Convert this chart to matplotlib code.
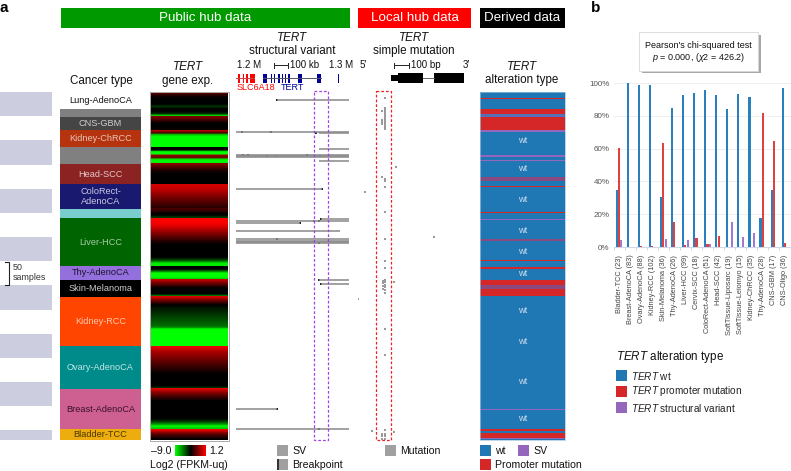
import numpy as np
import matplotlib
matplotlib.use("Agg")
import matplotlib.pyplot as plt
from matplotlib.colors import LinearSegmentedColormap
from matplotlib.patches import Rectangle

plt.rcParams['font.family'] = ['Liberation Sans', 'DejaVu Sans']
plt.rcParams['mathtext.fontset'] = 'custom'
plt.rcParams['mathtext.rm'] = 'Liberation Sans'
plt.rcParams['mathtext.it'] = 'Liberation Sans:italic'
plt.rcParams['mathtext.bf'] = 'Liberation Sans:bold'

W, H = 791, 471

# ---------- panel a data ----------
group_names = ["Lung-AdenoCA", "", "CNS-GBM", "Kidney-ChRCC", "", "Head-SCC", "ColoRect-\nAdenoCA", "",
               "Liver-HCC", "Thy-AdenoCA", "Skin-Melanoma", "Kidney-RCC", "Ovary-AdenoCA",
               "Breast-AdenoCA", "Bladder-TCC"]
group_samples = [35, 17, 27, 35, 35, 42, 51, 19, 99, 28, 36, 102, 88, 84, 22]
group_colors = ["#ffffff", "#808080", "#454545", "#b5340f", "#808080", "#8b2323", "#191970", "#79cdcd",
                "#006400", "#9370db", "#000000", "#ff4500", "#008b8b", "#cd6090", "#eead0e"]
label_colors = ["#111111", "#cccccc", "#cfcfcf", "#e8c4b4", "#cccccc", "#e2c8c8", "#c8c8e2", "#333333",
                "#a8cca8", "#1d1430", "#cccccc", "#ffc9b0", "#c4e6e6", "#3a1228", "#4a3500"]
heat_rows = [
    [-1.9, -3.0, -3.7, -3.9, -3.9, -3.9, -3.9, -5.0, -4.3],
    [-3.9, -3.9, -4.8, -8.8],
    [-1.4, -2.2, -3.0, -3.9, -3.9, -3.9, -3.6],
    [-0.4, -2.6, -8.0, -9.0, -9.0, -9.0, -9.0, -9.0, -9.0],
    [-3.9, -3.9, -9.0, -9.0, -1.0, -1.8, -8.6, -9.0, -8.6],
    [-1.2, -2.0, -2.8, -3.4, -3.7, -3.9, -3.9, -3.9, -3.9, -3.9],
    [0.3, 0.2, 0.0, -0.3, -0.7, -1.0, -1.4, -1.7, -2.0, -2.3, -2.6, -2.9, -3.2],
    [-2.5, -2.9, -3.9, -3.9, -5.0],
    [1.2, 1.2, 1.0, 0.8, 0.3, -0.2, -0.7, -1.2, -1.7, -2.2, -2.7, -3.2, -3.6, -3.9, -3.9, -3.9, -3.9,
     -3.9, -3.9, -3.9, -4.8, -6.0, -8.6, -8.6],
    [-3.9, -3.9, -6.0, -9.0, -9.0, -9.0, -8.0],
    [0.0, -1.2, -2.0, -3.0, -3.9, -3.9, -3.9, -3.9, -7.0],
    [0.5, -1.0, -2.0, -3.0, -3.9, -4.2, -4.4, -4.6, -4.8, -5.0, -5.2, -5.4, -5.6, -5.8, -6.0, -6.3,
     -9.0, -9.0, -9.0, -9.0, -9.0, -9.0, -9.0, -9.0, -9.0],
    [0.8, 0.2, -0.3, -0.7, -1.0, -1.3, -1.6, -1.9, -2.2, -2.5, -2.8, -3.1, -3.4, -3.7, -3.9, -3.9,
     -3.9, -3.9, -3.9, -3.9, -3.9, -5.2],
    [0.6, -0.5, -1.3, -2.0, -2.7, -3.3, -3.9, -3.9, -3.9, -3.9, -3.9, -3.9, -3.9, -3.9, -3.9, -3.9,
     -4.5, -5.5, -7.0, -9.0, -8.0],
    [0.9, -0.5, -1.8, -2.6, -3.2, -3.9],
]
# structural variants: sample row, start and end in track units
sv_rows = [17, 82, 84, 118, 130, 133, 135, 143, 200, 263, 267, 270, 288, 304, 308, 311, 313, 389, 398, 656, 697]
sv_start = [41, 0, 83, 83, 0, 0, 0, 83, 0, 85, 0, 0, 0, 0, 0, 0, 0, 83, 85, 0, 0]
sv_end = [113, 113, 113, 113, 113, 113, 113, 113, 86, 113, 113, 64, 104, 113, 113, 113, 113, 113, 113, 41, 113]
bp_rows = [17, 82, 82, 84, 130, 130, 133, 133, 130, 133, 200, 263, 270, 267, 267, 304, 313, 389, 398, 656, 697]
bp_pos = [41, 6, 35, 80, 7, 12, 31, 40, 71, 84, 86, 85, 64, 78, 83, 41, 83, 83, 85, 41, 83]
# simple mutations: track position and sample row
mut_pos = [27, 24, 24, 24, 24, 27, 27, 27, 27, 27, 27, 27, 27, 27, 27, 27, 27, 38, 24, 27, 27, 27, 7, 27, 27, 76,
           27, 27, 36, 25, 27, 25, 27, 25, 27, 25, 27, 27, 27, 0, 27, 27, 14, 36, 27, 24, 27, 24, 27, 24, 27]
mut_rows = [12, 39, 58, 62, 66, 33, 37, 41, 45, 49, 53, 57, 60, 64, 68, 72, 76, 155, 176, 180, 184, 197, 207, 248,
            304, 300, 349, 364, 393, 391, 389, 396, 394, 402, 399, 407, 404, 410, 416, 428, 490, 544, 702, 704,
            700, 707, 707, 712, 712, 717, 717]
# alteration runs from top to bottom: 0 wt, 1 promoter, 2 SV, 3 wt+SV blend, 4 promoter+SV blend
alt_counts = [12, 2, 21, 10, 6, 27, 5, 48, 4, 6, 2, 32, 10, 10, 2, 51, 2, 12, 2, 40, 4, 40, 1, 13, 4, 23, 10, 8, 15,
              234, 1, 41, 4, 4, 10, 2, 2]
alt_types = [0, 1, 0, 1, 3, 1, 2, 0, 2, 0, 2, 0, 4, 0, 1, 0, 1, 0, 2, 0, 4, 0, 1, 0, 1, 0, 1, 4, 1,
             0, 2, 0, 1, 0, 1, 2, 0]
wt_rows = [100, 158, 222, 286, 330, 375, 453, 516, 598, 675]
blocks_step = 100
blocks_width = 50

# ---------- panel b data ----------
b_labels = ["Bladder-TCC (23)", "Breast-AdenoCA (83)", "Ovary-AdenoCA (88)", "Kidney-RCC (102)", "Skin-Melanoma (36)",
            "Thy-AdenoCA (26)", "Liver-HCC (99)", "Cervix-SCC (18)", "ColoRect-AdenoCA (51)", "Head-SCC (42)",
            "SoftTissue-Liposarc (19)", "SoftTissue-Leiomyo (15)", "Kidney-ChRCC (35)", "Thy-AdenoCA (28)",
            "CNS-GBM (17)", "CNS-Oligo (36)"]
b_wt = [34.5, 100, 98.8, 99, 30.5, 84.5, 92.8, 94, 96, 92.8, 84, 93.2, 91.5, 17.5, 35, 97]
b_prom = [60.5, 0, 0.6, 0.6, 63.5, 15, 1.5, 5.2, 1.8, 7, 0, 0, 0, 82, 64.7, 2.5]
b_sv = [4, 0, 0, 0, 5, 0, 4.5, 0, 1.8, 0, 15.5, 6.3, 8.3, 0, 0, 0]
b_ticks = [0, 20, 40, 60, 80, 100]

BLUE, RED, PURPLE = "#1f77b4", "#d62728", "#9467bd"
ALT_COLORS = [BLUE, RED, PURPLE, "#5570b8", "#8a4a80"]

fig = plt.figure(figsize=(W / 100, H / 100), dpi=100, facecolor="white")


def add_ax(x0, y0, x1, y1, **kw):
    return fig.add_axes([x0 / W, 1 - y1 / H, (x1 - x0) / W, (y1 - y0) / H], **kw)


def track_ax(x0, x1):
    ax = add_ax(x0, TOP, x1, BOT)
    ax.set_xlim(0, x1 - x0)
    ax.set_ylim(total, 0)
    ax.axis("off")
    return ax


TOP, BOT = 92, 440
total = sum(group_samples)
edges = np.concatenate([[0], np.cumsum(group_samples)])

# lavender sample-scale blocks
ax = track_ax(0, 52)
ax.barh(np.arange(0, total, blocks_step), 52, height=blocks_width, align="edge", color="#cdcde0", linewidth=0)

# cancer type column
ax = track_ax(60, 141)
ax.barh(edges[:-1], 81, height=group_samples, align="edge", color=group_colors, linewidth=0)
for name, c, a, b in zip(group_names, label_colors, edges[:-1], edges[1:]):
    if name:
        ax.text(40.5, (a + b) / 2, name, ha="center", va="center", color=c, fontsize=6.6, linespacing=1.1)

# expression heat map
cmap = LinearSegmentedColormap.from_list("gkr", ["#00ff00", "#000000", "#ff0000"])
ax = track_ax(150, 228)
for vals, a, b in zip(heat_rows, edges[:-1], edges[1:]):
    ax.imshow(np.array(vals)[:, None], cmap=cmap, vmin=-9, vmax=1.2, aspect="auto",
              extent=(0, 78, b, a), interpolation="bilinear")
ax.set_xlim(0, 78)
ax.set_ylim(total, 0)

# structural variants
ax = track_ax(236, 350)
ax.hlines(sv_rows, sv_start, sv_end, color="#8c8c8c", linewidth=1.15)
ax.scatter(bp_pos, bp_rows, s=2.6, marker="s", color="#222222", linewidths=0)

# simple mutations
ax = track_ax(358, 472)
ax.scatter(mut_pos, mut_rows, s=3.0, marker="s", color="#9a9a9a", linewidths=0)

# alteration type strip
ax = track_ax(480, 565)
alt_edges = np.concatenate([[0], np.cumsum(alt_counts)])
ax.barh(alt_edges[:-1], 85, height=alt_counts, align="edge", linewidth=0,
        color=[ALT_COLORS[t] for t in alt_types])
for r in wt_rows:
    ax.text(42.5, r, "wt", color="#cfe0ee", ha="center", va="center", fontsize=6.6)

# ---------- panel b ----------
ax = add_ax(613.5, 83, 790.5, 247)
x = np.arange(len(b_labels))
w = 0.19
ax.bar(x - 0.21, b_wt, w, color="#2a7fbf", linewidth=0, zorder=3)
ax.bar(x, b_prom, w, color="#e04040", linewidth=0, zorder=3)
ax.bar(x + 0.21, b_sv, w, color="#a07ad0", linewidth=0, zorder=3)
ax.set_xlim(-0.5, len(b_labels) - 0.5)
ax.set_ylim(0, 100)
ax.set_yticks(b_ticks)
ax.set_yticklabels([f"{t}%" for t in b_ticks], fontsize=5.8, color="#555555")
ax.set_xticks(x)
ax.set_xticklabels(b_labels, rotation=90, fontsize=5.3, color="#444444")
ax.set_xticks(np.arange(-0.5, len(b_labels)), minor=True)
ax.tick_params(axis="x", which="major", length=0, pad=5.5)
ax.tick_params(axis="x", which="minor", length=2.5, color="#cfd8ea", width=0.7)
ax.tick_params(axis="y", length=0, pad=3)
ax.grid(axis="y", color="#ececec", linewidth=0.6, zorder=0)
for s in ("top", "right", "left"):
    ax.spines[s].set_visible(False)
ax.spines["bottom"].set_color("#cfd8ea")
ax.spines["bottom"].set_linewidth(0.8)
ax.patch.set_alpha(0)

# ---------- page furniture in pixel coordinates ----------
pg = fig.add_axes([0, 0, 1, 1], zorder=10)
pg.set_xlim(0, W)
pg.set_ylim(H, 0)
pg.axis("off")


def rect(x0, y0, x1, y1, c, **kw):
    pg.add_patch(Rectangle((x0, y0), x1 - x0, y1 - y0, facecolor=c, edgecolor="none", **kw))


def txt(x, y, s, size=8.4, c="#111111", ha="center", **kw):
    pg.text(x, y, s, fontsize=size, color=c, ha=ha, va="center", **kw)


txt(4, 8, "a", size=11, c="black", weight="bold")
txt(596, 8, "b", size=11, c="black", weight="bold")
for x0, x1, c, s in [(61, 350, "#009900", "Public hub data"), (358, 471, "#ff0000", "Local hub data"),
                     (480, 565, "#000000", "Derived data")]:
    rect(x0, 8, x1, 28, c)
    txt((x0 + x1) / 2, 18, s, size=9.6, c="white")

txt(101, 81, "Cancer type")
txt(188, 67, "TERT", style="italic")
txt(188, 81, "gene exp.")
txt(292, 38, "TERT", style="italic")
txt(292, 51, "structural variant")
txt(414, 38, "TERT", style="italic")
txt(414, 51, "simple mutation")
txt(522, 67, "TERT", style="italic")
txt(522, 80, "alteration type")
pg.add_patch(Rectangle((149.5, 91.5), 79, 349, fill=False, edgecolor="#aaaaaa", linewidth=0.7))
pg.add_patch(Rectangle((480, 92), 85, 348, fill=False, edgecolor="#9fc3e0", linewidth=0.5))

# 50 samples bracket
pg.plot([5, 8.5, 8.5, 5], [262, 262, 285, 285], color="#222222", lw=0.8)
txt(13, 268, "50", size=6.4, ha="left", c="#333333")
txt(13, 278, "samples", size=6.4, ha="left", c="#333333")

# genome track header
txt(249, 65, "1.2 M", size=7)
txt(341, 65, "1.3 M", size=7)
txt(290, 65, "100 kb", size=7, ha="left")
pg.plot([273.5, 273.5, 273.5, 288, 288, 288], [62.5, 67.5, 65, 65, 62.5, 67.5], color="#222222", lw=0.7)
pg.plot([236, 254], [78, 78], color="#cc4444", lw=0.7)
pg.plot([263, 321], [78, 78], color="#555566", lw=0.7)
for a, b in [(238, 239.5), (242.5, 244), (246, 247.5), (250, 254.5)]:
    rect(a, 73.5, b, 82.5, "#ff0000")
for a, b in [(263, 266.5), (270.5, 272), (273.5, 275), (278, 279.5), (281.5, 283), (284.5, 286), (287.5, 289.5),
             (298, 302), (317, 321), (338, 339)]:
    rect(a, 73.5, b, 82.5, "#000099")
txt(237, 88, "SLC6A18", size=6.5, c="#ff0000", ha="left")
txt(281, 88, "TERT", size=6.5, c="#000099", ha="left")

# mutation gene header
txt(363, 65, "5′", size=7)
txt(466, 65, "3′", size=7)
txt(411, 65, "100 bp", size=7, ha="left")
pg.plot([394, 394, 394, 409, 409, 409], [62.5, 67.5, 65, 65, 62.5, 67.5], color="#222222", lw=0.7)
rect(391, 75, 398, 81, "black")
rect(398, 73, 423, 83, "black")
rect(434, 73, 464, 83, "black")
pg.plot([423, 434], [78, 78], color="#666666", lw=0.7)

# dashed hot-spot boxes
pg.add_patch(Rectangle((313.5, 90.5), 14.5, 349.5, fill=False, edgecolor="#a640e8", linestyle=(0, (2.2, 1.6)), linewidth=0.9))
pg.add_patch(Rectangle((376, 90.5), 14.5, 349.5, fill=False, edgecolor="#ee2222", linestyle=(0, (2.2, 1.6)), linewidth=0.9))

# legends below panel a
txt(161, 451, "–9.0", size=7.6)
txt(216.5, 451, "1.2", size=7.6)
cax = add_ax(175, 445, 206, 456)
cax.imshow(np.linspace(0, 1, 64)[None, :], cmap=cmap, aspect="auto")
cax.axis("off")
txt(189, 465, "Log2 (FPKM-uq)", size=7.6)
rect(277, 445, 288, 456, "#a0a0a0")
txt(292, 450.5, "SV", size=7.6, ha="left")
rect(277, 459, 288, 470, "#a0a0a0")
rect(277, 459, 278.5, 470, "#333333")
txt(292, 465, "Breakpoint", size=7.6, ha="left")
rect(385, 445, 396, 456, "#a0a0a0")
txt(400, 450.5, "Mutation", size=7.6, ha="left")
rect(480, 445, 491, 456, BLUE)
txt(495, 450.5, "wt", size=7.6, ha="left")
rect(518, 445, 529, 456, PURPLE)
txt(533, 450.5, "SV", size=7.6, ha="left")
rect(480, 459, 491, 470, RED)
txt(495, 465, "Promoter mutation", size=7.6, ha="left")

# chi-squared box
rect(641.5, 34.5, 760.5, 73, "#8a8a8a", alpha=0.75)
pg.add_patch(Rectangle((639, 32), 119, 39, facecolor="white", edgecolor="#d8d8d8", linewidth=0.6))
txt(698.5, 45.5, "Pearson's chi-squared test", size=6.5)
txt(698.5, 57, r"$\mathit{p}$ = 0.000, ($\chi$2 = 426.2)", size=6.5)

# panel b legend
pg.text(616, 357, r"$\mathit{TERT}$ alteration type", fontsize=8.4, color="#111111", va="center")
for yy, c, s in [(370, BLUE, " wt"), (386, RED, " promoter mutation"), (402, PURPLE, " structural variant")]:
    rect(616, yy, 627, yy + 11, c)
    pg.text(631, yy + 5.5, r"$\mathit{TERT}$" + s, fontsize=7.2, color="#222222", va="center")

fig.savefig("out.png", dpi=100, facecolor="white")
